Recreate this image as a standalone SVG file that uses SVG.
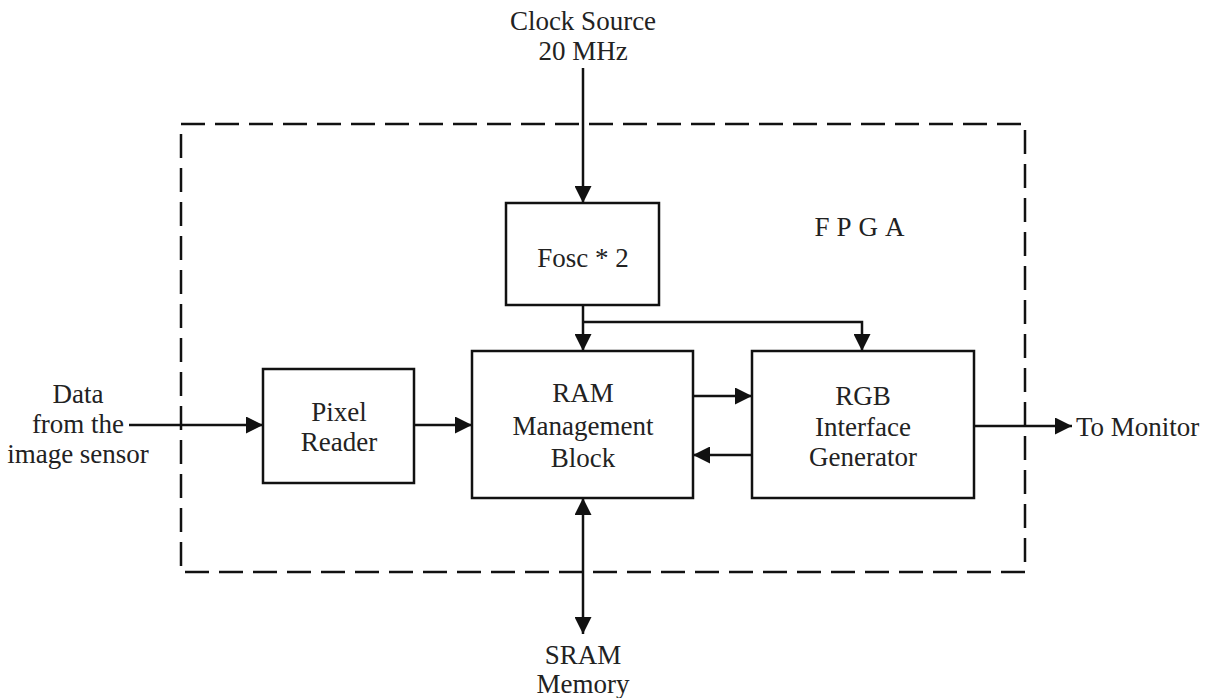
<svg xmlns="http://www.w3.org/2000/svg" width="1225" height="698" viewBox="0 0 1225 698">
<style>
.box{fill:#fff;stroke:#111;stroke-width:2.5}
.ln{fill:none;stroke:#111;stroke-width:2.5}
text{font-family:'Liberation Serif','Times New Roman',serif;font-size:27px;fill:#222;text-anchor:middle}
</style>
<defs>
<marker id="ah" viewBox="0 0 10 10" refX="10" refY="5" markerWidth="17" markerHeight="17" markerUnits="userSpaceOnUse" orient="auto-start-reverse">
<path d="M0,0 L10,5 L0,10 z" fill="#111"/>
</marker>
</defs>
<rect x="181" y="124" width="844" height="448" fill="none" stroke="#111" stroke-width="2.5" stroke-dasharray="24,10"/>
<text x="863" y="236" style="letter-spacing:7px">FPGA</text>
<g id="connectors">
<path class="ln" d="M583,68 V203" marker-end="url(#ah)"/>
<path class="ln" d="M583,305 V351" marker-end="url(#ah)"/>
<path class="ln" d="M583,322 H862 V351" marker-end="url(#ah)"/>
<path class="ln" d="M129,425 H263" marker-end="url(#ah)"/>
<path class="ln" d="M414,425 H472" marker-end="url(#ah)"/>
<path class="ln" d="M693,396 H752" marker-end="url(#ah)"/>
<path class="ln" d="M752,455 H693" marker-end="url(#ah)"/>
<path class="ln" d="M974,426 H1072" marker-end="url(#ah)"/>
<path class="ln" d="M583,498 V634" marker-start="url(#ah)" marker-end="url(#ah)"/>
</g>
<g id="clock"><text x="583" y="30">Clock Source</text><text x="583" y="60">20 MHz</text></g>
<g id="fosc"><rect class="box" x="506" y="203" width="153" height="102"/><text x="583" y="267">Fosc * 2</text></g>
<g id="pixel"><rect class="box" x="263" y="369" width="151" height="114"/><text x="339" y="421">Pixel</text><text x="339" y="451">Reader</text></g>
<g id="ram"><rect class="box" x="472" y="351" width="221" height="147"/><text x="583" y="402">RAM</text><text x="583" y="435">Management</text><text x="583" y="467">Block</text></g>
<g id="rgb"><rect class="box" x="752" y="351" width="222" height="147"/><text x="863" y="405">RGB</text><text x="863" y="436">Interface</text><text x="863" y="466">Generator</text></g>
<g id="data"><text x="78" y="403">Data</text><text x="78" y="433">from the</text><text x="78" y="463">image sensor</text></g>
<g id="monitor"><text x="1076" y="436" style="text-anchor:start">To Monitor</text></g>
<g id="sram"><text x="583" y="664">SRAM</text><text x="583" y="693">Memory</text></g>
</svg>
